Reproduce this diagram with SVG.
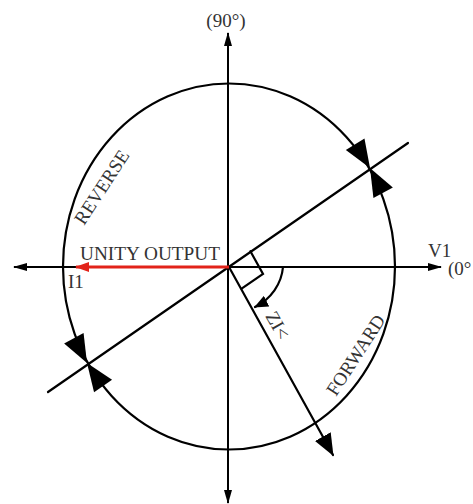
<svg xmlns="http://www.w3.org/2000/svg" xmlns:xlink="http://www.w3.org/1999/xlink" width="473" height="504" viewBox="0 0 473 504">
<style>
.ln{fill:none;stroke:#000;stroke-width:2.2;stroke-linecap:round}
.ax{fill:none;stroke:#000;stroke-width:2}
.red{fill:none;stroke:#e2231a;stroke-width:3}
.t{font-family:"Liberation Serif","Times New Roman",serif;font-size:19px;fill:#333}
.hd{fill:#000}
</style>
<defs>
<marker id="axh" viewBox="0 0 14 10" refX="13" refY="5" markerWidth="14" markerHeight="10" markerUnits="userSpaceOnUse" orient="auto"><path d="M0,1 L14,5 L0,9 Z" fill="#000"/></marker>
<marker id="redh" viewBox="0 0 14 10" refX="13" refY="5" markerWidth="14" markerHeight="10" markerUnits="userSpaceOnUse" orient="auto"><path d="M0,0 L14,5 L0,10 Z" fill="#e2231a"/></marker>
<marker id="zh" viewBox="0 0 22 18" refX="21" refY="9" markerWidth="22" markerHeight="18" markerUnits="userSpaceOnUse" orient="auto"><path d="M0,0 L22,9 L0,18 Z" fill="#000"/></marker>
<marker id="ah" viewBox="0 0 14 12" refX="13" refY="6" markerWidth="14" markerHeight="12" markerUnits="userSpaceOnUse" orient="auto"><path d="M0,0 L14,6 L0,12 Z" fill="#000"/></marker>
<path id="bigHead" d="M0,0 L-28,-11 L-28,11 Z"/>
</defs>
<g id="circle">
<ellipse cx="229" cy="266.5" rx="166" ry="183" class="ln"/>
</g>
<g id="connectors">
<path class="ax" d="M228,503 L228,33" marker-end="url(#axh)"/>
<path class="ax" d="M228,268 L228,503" marker-end="url(#axh)"/>
<path class="ax" d="M229,267 L441,267" marker-end="url(#axh)"/>
<path class="ax" d="M229,267 L14,267" marker-end="url(#axh)"/>
<path class="ln" d="M48,392 L408,143"/>
<path class="ln" d="M229,267 L333,455" marker-end="url(#zh)"/>
<path class="ln" d="M250.4,251.2 L263,274 L241.6,288.7"/>
<path class="ln" d="M283,267 A54 50 0 0 1 255,307" marker-end="url(#ah)"/>
<path class="red" d="M229,267 L76,267" marker-end="url(#redh)"/>
</g>
<g id="heads" class="hd">
<use xlink:href="#bigHead" transform="translate(370,168) rotate(58)"/>
<use xlink:href="#bigHead" transform="translate(370,168) rotate(242)"/>
<use xlink:href="#bigHead" transform="translate(87,363) rotate(62)"/>
<use xlink:href="#bigHead" transform="translate(87,363) rotate(235)"/>
</g>
<g id="labels">
<text class="t" x="226" y="27" text-anchor="middle">(90°)</text>
<text class="t" x="80" y="260" textLength="140" lengthAdjust="spacingAndGlyphs">UNITY OUTPUT</text>
<text class="t" x="68" y="288">I1</text>
<text class="t" x="428" y="257">V1</text>
<text class="t" x="448" y="275">(0°</text>
<text class="t" transform="translate(84,226) rotate(-57)">REVERSE</text>
<text class="t" transform="translate(336,397) rotate(-57)">FORWARD</text>
<text class="t" transform="translate(265,316) rotate(60)">ZI&lt;</text>
</g>
</svg>
